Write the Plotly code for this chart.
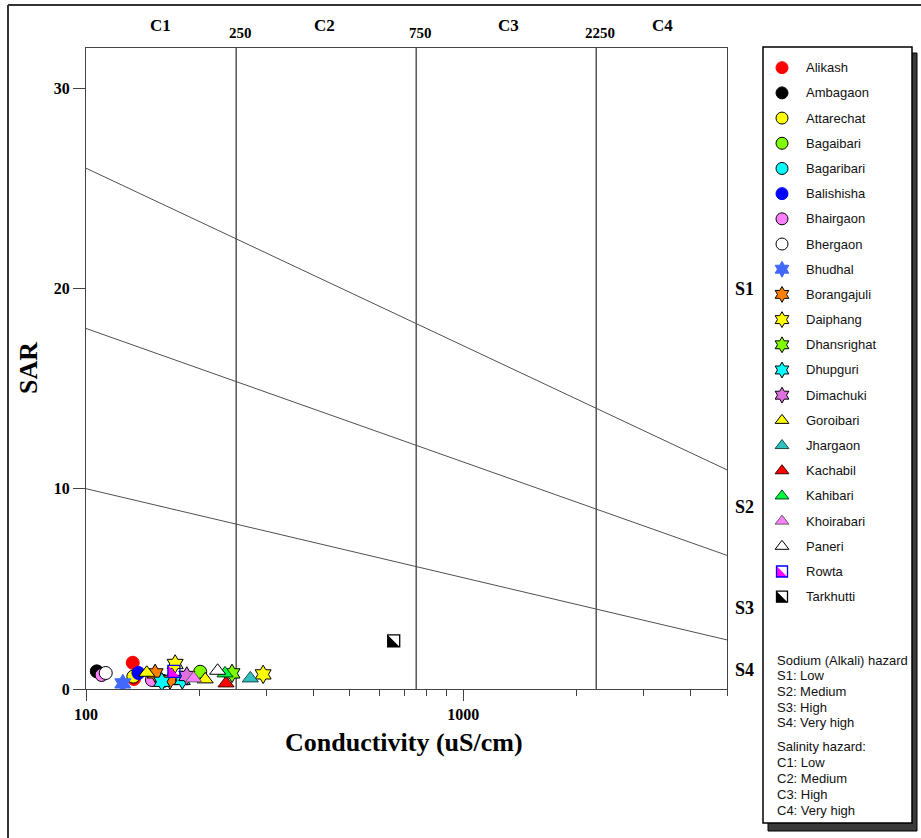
import math
import plotly.graph_objects as go

W, H = 921, 838

# ---------------- data ----------------
locations = ["Alikash", "Ambagaon", "Attarechat", "Bagaibari", "Bagaribari", "Balishisha",
             "Bhairgaon", "Bhergaon", "Bhudhal", "Borangajuli", "Daiphang", "Dhansrighat",
             "Dhupguri", "Dimachuki", "Goroibari", "Jhargaon", "Kachabil", "Kahibari",
             "Khoirabari", "Paneri", "Rowta", "Tarkhutti"]

sample_location = ["Alikash", "Alikash", "Ambagaon", "Attarechat", "Bagaibari", "Bagaribari",
                   "Balishisha", "Bhairgaon", "Bhairgaon", "Bhergaon", "Bhudhal",
                   "Borangajuli", "Borangajuli", "Daiphang", "Daiphang", "Dhansrighat",
                   "Dhupguri", "Dhupguri", "Dimachuki", "Goroibari", "Goroibari", "Jhargaon",
                   "Kachabil", "Kahibari", "Khoirabari", "Paneri", "Rowta", "Tarkhutti"]
sample_ec = [133, 134, 106.8, 133.5, 200.8, 160,
             137.7, 110, 149.5, 112.8, 125.2,
             152.5, 167, 172.3, 294.8, 243.8,
             158.8, 180, 185, 144.9, 207, 272.6,
             235, 233.6, 192.8, 223.3, 171, 654]
sample_sar = [1.31, 0.50, 0.88, 0.62, 0.86, 0.40,
              0.80, 0.70, 0.45, 0.80, 0.28,
              0.78, 0.45, 1.25, 0.73, 0.78,
              0.36, 0.45, 0.65, 0.81, 0.48, 0.53,
              0.28, 0.78, 0.53, 0.91, 0.88, 2.40]

# salinity class boundaries (uS/cm) and labels
salinity_bounds = [250, 750, 2250]
salinity_classes = ["C1", "C2", "C3", "C4"]
# sodium hazard boundary lines: SAR at EC=100 and EC=5000
line_ec = [100, 5000]
sodium_line_sar = [[26.0, 10.94], [18.0, 6.67], [10.0, 2.45]]
sodium_classes = ["S1", "S2", "S3", "S4"]

hazard_notes = ["Sodium (Alkali) hazard", "S1: Low", "S2: Medium", "S3: High", "S4: Very high",
                "Salinity hazard:", "C1: Low", "C2: Medium", "C3: High", "C4: Very high"]

# ---------------- styles ----------------
style = {
    "Alikash":     ("circle", "#FF0000", "#FF0000", 13, 12),
    "Ambagaon":    ("circle", "#000000", "#000000", 13, 12),
    "Attarechat":  ("circle", "#FFFF00", "#000000", 13, 12),
    "Bagaibari":   ("circle", "#80FF00", "#000000", 13, 12),
    "Bagaribari":  ("circle", "#00FFFF", "#000000", 13, 12),
    "Balishisha":  ("circle", "#0000FF", "#0000FF", 13, 12),
    "Bhairgaon":   ("circle", "#FF80FF", "#000000", 13, 12),
    "Bhergaon":    ("circle", "#FFFFFF", "#000000", 13, 12),
    "Bhudhal":     ("hexagram", "#4169FF", "#4169FF", 14, 12),
    "Borangajuli": ("hexagram", "#FF8000", "#000000", 14, 12),
    "Daiphang":    ("hexagram", "#FFFF00", "#000000", 14, 12),
    "Dhansrighat": ("hexagram", "#80FF00", "#000000", 14, 12),
    "Dhupguri":    ("hexagram", "#00FFFF", "#000000", 14, 12),
    "Dimachuki":   ("hexagram", "#E070E0", "#000000", 14, 12),
    "Goroibari":   ("triangle-up", "#FFFF00", "#000000", 14, 12),
    "Jhargaon":    ("triangle-up", "#30C0C0", "#1a4a4a", 14, 12),
    "Kachabil":    ("triangle-up", "#FF0000", "#400000", 14, 12),
    "Kahibari":    ("triangle-up", "#00FF40", "#004010", 14, 12),
    "Khoirabari":  ("triangle-up", "#FF80FF", "#606060", 14, 12),
    "Paneri":      ("triangle-up", "#FFFFFF", "#000000", 14, 12),
    "Rowta":       ("half", "#FF00FF", "#0000FF", 12, 11),
    "Tarkhutti":   ("half", "#000000", "#000000", 12, 11),
}

# ---------------- geometry ----------------
PL, PR, PT, PB = 86, 727, 48, 689          # plot area in pixels
XMAX = 5000
YMAX = 32
decade_px = (PR - PL) / (math.log10(XMAX) - 2)
unit_px = (PB - PT) / YMAX

LG_L, LG_R, LG_T, LG_B = 763, 912, 47, 823  # legend box
LG_FIRST, LG_STEP = 67.7, 25.19
LG_MARK_X, LG_TEXT_X = 782, 804


def fx(p):
    return p / W


def fy(p):
    return 1 - p / H


fig = go.Figure()

# class boundaries
for b in salinity_bounds:
    fig.add_trace(go.Scatter(x=[b, b], y=[0, YMAX], mode="lines",
                             line=dict(color="#000000", width=1), hoverinfo="skip",
                             showlegend=False))
for s in sodium_line_sar:
    fig.add_trace(go.Scatter(x=line_ec, y=s, mode="lines",
                             line=dict(color="#505050", width=1), hoverinfo="skip",
                             showlegend=False))


def half_square(xs, ys, fill, edge, size, xlog, xscale, yscale, xaxis, yaxis, name):
    # filled lower-left half + square outline; yscale < 0 for reversed axes
    sh = size / 6.0
    tsize = size * 1.111
    if xlog:
        tx = [10 ** (math.log10(v) - sh / xscale) for v in xs]
    else:
        tx = [v - sh / xscale for v in xs]
    ty = [v - sh / yscale for v in ys]
    fig.add_trace(go.Scatter(x=tx, y=ty, mode="markers", xaxis=xaxis, yaxis=yaxis,
                             marker=dict(symbol="triangle-sw", size=tsize, color=fill,
                                         line=dict(color=fill, width=0)),
                             name=name, showlegend=False))
    fig.add_trace(go.Scatter(x=xs, y=ys, mode="markers", xaxis=xaxis, yaxis=yaxis,
                             marker=dict(symbol="square-open", size=size, color=edge,
                                         line=dict(color=edge, width=1.3)),
                             name=name, showlegend=False))


# data points, in legend order
for loc in locations:
    xs = [e for e, l in zip(sample_ec, sample_location) if l == loc]
    ys = [s for s, l in zip(sample_sar, sample_location) if l == loc]
    sym, fill, edge, size, _ = style[loc]
    if sym == "half":
        half_square(xs, ys, fill, edge, size, True, decade_px, unit_px, "x", "y", loc)
    else:
        fig.add_trace(go.Scatter(x=xs, y=ys, mode="markers", name=loc, showlegend=False,
                                 marker=dict(symbol=sym, size=size, color=fill,
                                             line=dict(color=edge, width=1))))

# custom legend markers (axis x2/y2 : x in pixels, y in item index, reversed)
for i, loc in enumerate(locations):
    sym, fill, edge, _, lsize = style[loc]
    if sym == "half":
        half_square([LG_MARK_X], [i], fill, edge, lsize, False, 1.0, -LG_STEP, "x2", "y2", loc)
    else:
        fig.add_trace(go.Scatter(x=[LG_MARK_X], y=[i], mode="markers", xaxis="x2", yaxis="y2",
                                 name=loc, showlegend=False,
                                 marker=dict(symbol=sym, size=lsize, color=fill,
                                             line=dict(color=edge, width=1))))

annotations = []
for i, loc in enumerate(locations):
    annotations.append(dict(x=LG_TEXT_X, y=i, xref="x2", yref="y2", text=loc, showarrow=False,
                            xanchor="left", yanchor="middle",
                            font=dict(family="Liberation Sans", size=13, color="#111")))

note_y = [660, 675, 691, 707, 722, 746, 762, 778, 794, 810]
for t, yy in zip(hazard_notes, note_y):
    annotations.append(dict(x=fx(775), y=fy(yy), xref="paper", yref="paper", text=t,
                            showarrow=False, xanchor="left", yanchor="middle",
                            font=dict(family="Liberation Sans", size=13, color="#111")))

serif_b = "Liberation Serif"
# salinity class labels and boundary values
c_px = [160, 324, 508, 662]
for c, xp in zip(salinity_classes, c_px):
    annotations.append(dict(x=fx(xp), y=fy(25), xref="paper", yref="paper", text="<b>%s</b>" % c,
                            showarrow=False, xanchor="center", yanchor="middle",
                            font=dict(family=serif_b, size=17, color="#000")))
for b in salinity_bounds:
    annotations.append(dict(x=math.log10(b) + 4 / decade_px, y=fy(33), xref="x", yref="paper",
                            text="<b>%d</b>" % b, showarrow=False, xanchor="center",
                            yanchor="middle",
                            font=dict(family=serif_b, size=15, color="#000")))
s_px = [289, 507, 608, 670]
for s, yp in zip(sodium_classes, s_px):
    annotations.append(dict(x=fx(744), y=fy(yp), xref="paper", yref="paper", text="<b>%s</b>" % s,
                            showarrow=False, xanchor="center", yanchor="middle",
                            font=dict(family=serif_b, size=18, color="#000")))

annotations.append(dict(x=fx(28), y=fy(368), xref="paper", yref="paper", text="<b>SAR</b>",
                        textangle=-90, showarrow=False, xanchor="center", yanchor="middle",
                        font=dict(family=serif_b, size=26, color="#000")))
annotations.append(dict(x=fx(404), y=fy(742), xref="paper", yref="paper",
                        text="<b>Conductivity (uS/cm)</b>", showarrow=False, xanchor="center",
                        yanchor="middle", font=dict(family=serif_b, size=26, color="#000")))

shapes = [
    # outer frame
    dict(type="line", xref="paper", yref="paper", x0=fx(8), x1=fx(8), y0=fy(5), y1=fy(H + 5),
         line=dict(color="#333", width=2)),
    dict(type="line", xref="paper", yref="paper", x0=fx(8), x1=fx(W + 5), y0=fy(5), y1=fy(5),
         line=dict(color="#333", width=2)),
    # legend shadow and box
    dict(type="rect", xref="paper", yref="paper", x0=fx(LG_L + 5), x1=fx(LG_R + 5),
         y0=fy(LG_T + 6), y1=fy(LG_B + 8), fillcolor="#3a3a3a", line=dict(color="#000", width=1),
         layer="below"),
    dict(type="rect", xref="paper", yref="paper", x0=fx(LG_L), x1=fx(LG_R),
         y0=fy(LG_T), y1=fy(LG_B), fillcolor="#FFFFFF", line=dict(color="#000", width=1.5),
         layer="below"),
]

minor_vals = [200, 300, 400, 500, 600, 700, 800, 900, 2000, 3000, 4000, 5000]

fig.update_layout(
    width=W, height=H, margin=dict(l=0, r=0, t=0, b=0, autoexpand=False),
    paper_bgcolor="#FFFFFF", plot_bgcolor="rgba(0,0,0,0)",
    showlegend=False,
    xaxis=dict(type="log", range=[2, math.log10(XMAX)], domain=[PL / W, PR / W],
               automargin=False,
               showgrid=False, zeroline=False, showline=True, linecolor="#444", linewidth=1,
               mirror=True, ticks="outside", ticklen=11, tickcolor="#444",
               tickvals=[100, 1000], ticktext=["<b>100</b>", "<b>1000</b>"],
               tickfont=dict(family=serif_b, size=16, color="#000"),
               minor=dict(tickvals=minor_vals, ticks="outside", ticklen=6, tickcolor="#444",
                          showgrid=False)),
    yaxis=dict(range=[0, YMAX], domain=[1 - PB / H, 1 - PT / H], showgrid=False,
               automargin=False,
               zeroline=False, showline=True, linecolor="#444", linewidth=1, mirror=True,
               ticks="outside", ticklen=12, tickcolor="#444",
               tickvals=[0, 10, 20, 30], ticktext=["<b>0</b>", "<b>10</b>", "<b>20</b>", "<b>30</b>"],
               tickfont=dict(family=serif_b, size=16, color="#000")),
    xaxis2=dict(range=[LG_L, LG_R], domain=[LG_L / W, LG_R / W], visible=False,
                anchor="y2", fixedrange=True, automargin=False),
    yaxis2=dict(range=[(LG_B - LG_FIRST) / LG_STEP, (LG_T - LG_FIRST) / LG_STEP],
                domain=[1 - LG_B / H, 1 - LG_T / H], visible=False, anchor="x2",
                fixedrange=True, automargin=False),
    annotations=annotations,
    shapes=shapes,
)

fig.write_html("out.html")
